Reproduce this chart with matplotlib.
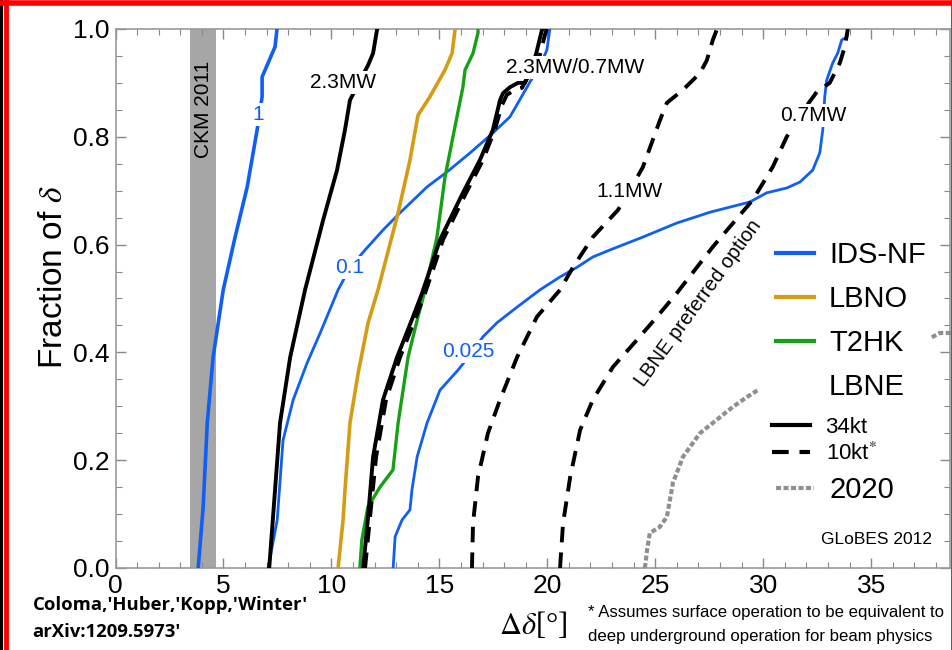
import matplotlib.pyplot as plt
from matplotlib.lines import Line2D
from matplotlib.ticker import MultipleLocator

plt.rcParams['font.family'] = ['Liberation Sans', 'DejaVu Sans']
plt.rcParams['mathtext.fontset'] = 'stix'

# CKM 2011 band
ckm_band = [3.46, 4.66]

# IDS-NF contours (blue)
nf1_x = [3.83, 4.06, 4.25, 4.52, 4.99, 5.54, 6.10, 6.56, 6.79, 6.79, 7.39, 7.48]
nf1_y = [0.0, 0.113, 0.269, 0.391, 0.516, 0.614, 0.707, 0.813, 0.874, 0.911, 0.967, 1.0]

nf01_x = [7.07, 7.49, 7.76, 8.23, 8.87, 9.48, 10.31, 10.86, 11.56, 12.39, 13.18, 14.43,
          15.36, 16.42, 17.48, 18.27, 19.06, 19.20, 19.66, 19.98, 20.12]
nf01_y = [0.0, 0.089, 0.237, 0.312, 0.380, 0.436, 0.516, 0.557, 0.590, 0.627, 0.659, 0.707,
          0.735, 0.770, 0.807, 0.837, 0.892, 0.902, 0.931, 0.961, 1.0]

nf0025_x = [12.86, 12.95, 13.27, 13.64, 13.73, 13.97, 14.43, 15.03, 15.86, 16.42, 17.02, 17.67,
            18.60, 19.66, 20.59, 21.38, 22.11, 22.90, 24.43, 26.00, 27.53, 29.38, 30.16, 31.09,
            31.70, 32.29, 32.62, 32.76, 32.85, 32.94, 33.22, 33.45, 33.64, 33.88, 33.92]
nf0025_y = [0.0, 0.058, 0.089, 0.108, 0.145, 0.206, 0.269, 0.330, 0.367, 0.395, 0.429, 0.455,
            0.484, 0.516, 0.540, 0.558, 0.577, 0.590, 0.614, 0.640, 0.660, 0.679, 0.696, 0.705,
            0.716, 0.738, 0.770, 0.813, 0.874, 0.905, 0.937, 0.955, 0.980, 0.985, 1.0]

# LBNO (gold)
lbno_x = [10.31, 10.54, 10.63, 10.86, 11.24, 11.70, 12.16, 13.09, 13.64, 13.97, 14.01, 14.56,
          15.26, 15.59, 15.73]
lbno_y = [0.0, 0.089, 0.145, 0.269, 0.362, 0.455, 0.516, 0.659, 0.757, 0.831, 0.840, 0.874,
          0.924, 0.955, 1.0]

# T2HK (green)
t2hk_x = [11.32, 11.41, 11.69, 12.25, 12.85, 13.09, 13.55, 14.01, 14.34, 14.89, 15.26, 15.72,
          16.09, 16.19, 16.56, 16.79, 16.79]
t2hk_y = [0.0, 0.052, 0.113, 0.150, 0.182, 0.269, 0.391, 0.466, 0.516, 0.614, 0.725, 0.818,
          0.892, 0.924, 0.955, 0.993, 1.0]

# LBNE 34kt (solid black)
lbne34_a_x = [7.12, 7.39, 7.62, 8.09, 8.78, 9.62, 10.26, 10.63, 10.86, 11.70, 11.93, 12.12]
lbne34_a_y = [0.0, 0.145, 0.269, 0.391, 0.516, 0.646, 0.738, 0.813, 0.868, 0.933, 0.955, 1.0]

lbne34_b_x = [11.47, 11.70, 11.93, 12.39, 13.04, 13.78, 14.20, 15.03, 16.09, 16.88, 17.48, 17.81,
              17.95, 18.27, 18.64, 18.96, 19.47, 19.75, 19.80]
lbne34_b_y = [0.0, 0.095, 0.206, 0.312, 0.391, 0.466, 0.510, 0.609, 0.696, 0.757, 0.813, 0.868,
              0.881, 0.892, 0.900, 0.900, 0.952, 0.998, 1.0]

# LBNE 10kt (dashed black)
lbne10_a_x = [11.56, 11.79, 12.07, 12.53, 13.18, 13.92, 14.34, 15.17, 16.24, 17.02, 17.57, 17.90,
              18.13, 18.50, 18.83, 19.66, 19.89, 19.98]
lbne10_a_y = [0.0, 0.095, 0.206, 0.312, 0.391, 0.466, 0.510, 0.609, 0.696, 0.757, 0.813, 0.859,
              0.878, 0.887, 0.891, 0.952, 0.989, 1.0]

lbne10_b_x = [16.51, 16.56, 16.79, 17.25, 17.81, 18.60, 19.52, 20.59, 21.19, 22.11, 23.27, 23.83,
              24.43, 25.22, 25.54, 26.28, 27.07, 27.39, 27.67, 27.86]
lbne10_b_y = [0.0, 0.083, 0.169, 0.250, 0.312, 0.391, 0.466, 0.516, 0.558, 0.614, 0.664, 0.701,
              0.744, 0.831, 0.863, 0.887, 0.918, 0.942, 0.980, 1.0]

lbne10_c_x = [20.59, 20.73, 21.06, 21.52, 22.11, 23.04, 24.15, 25.08, 26.00, 27.67, 29.52, 30.44,
              31.09, 31.69, 32.48, 33.08, 33.55, 33.78, 33.92]
lbne10_c_y = [0.0, 0.083, 0.169, 0.256, 0.312, 0.373, 0.423, 0.466, 0.510, 0.596, 0.683, 0.744,
              0.800, 0.840, 0.883, 0.900, 0.937, 0.967, 1.0]

# 2020 (grey dotted)
y2020_a_x = [24.52, 24.62, 24.75, 25.21, 25.54, 25.82, 26.28, 27.07, 27.85, 28.60, 29.24, 29.75]
y2020_a_y = [0.0, 0.033, 0.065, 0.076, 0.095, 0.158, 0.206, 0.250, 0.275, 0.299, 0.317, 0.330]
y2020_b_x = [37.81, 38.18, 38.7]
y2020_b_y = [0.428, 0.436, 0.436]

blue = '#0f5ef5'
gold = '#d49c12'
green = '#16a016'
grey = '#8f8f8f'
dash = (4, 2.6)
dot = (1.2, 0.6)

fig = plt.figure(figsize=(9.53, 6.5), dpi=100)
ax = fig.add_axes([0.1212, 0.1262, 0.8756, 0.8292])

ax.axvspan(ckm_band[0], ckm_band[1], color='#a6a6a6', lw=0, zorder=1)
ax.text(sum(ckm_band) / 2, 0.85, 'CKM 2011', rotation=90, ha='center', va='center', fontsize=15, zorder=2)

ax.plot(nf1_x, nf1_y, color=blue, lw=2.6, zorder=3)
ax.plot(nf01_x, nf01_y, color=blue, lw=2.0, zorder=3)
ax.plot(nf0025_x, nf0025_y, color=blue, lw=2.0, zorder=3)
ax.plot(lbno_x, lbno_y, color=gold, lw=2.6, zorder=3)
ax.plot(t2hk_x, t2hk_y, color=green, lw=2.4, zorder=3)
ax.plot(lbne34_a_x, lbne34_a_y, color='black', lw=2.8, zorder=3)
ax.plot(lbne34_b_x, lbne34_b_y, color='black', lw=2.8, zorder=3)
for xs, ys in [(lbne10_a_x, lbne10_a_y), (lbne10_b_x, lbne10_b_y), (lbne10_c_x, lbne10_c_y)]:
    ax.plot(xs, ys, color='black', lw=2.8, dashes=dash, zorder=3)
ax.plot(y2020_a_x, y2020_a_y, color=grey, lw=3.0, dashes=dot, zorder=3)
ax.plot(y2020_b_x, y2020_b_y, color=grey, lw=3.0, dashes=dot, zorder=3, clip_on=False)

box = dict(fc='white', ec='none', pad=1.5)
ax.text(6.62, 0.842, '1', color=blue, fontsize=15, ha='center', va='center', bbox=box, zorder=4)
ax.text(10.86, 0.557, '0.1', color=blue, fontsize=15, ha='center', va='center', bbox=box, zorder=4)
ax.text(16.35, 0.401, '0.025', color=blue, fontsize=15, ha='center', va='center', bbox=box, zorder=4)
ax.text(10.54, 0.900, '2.3MW', fontsize=15, ha='center', va='center', bbox=box, zorder=4)
ax.text(21.3, 0.928, '2.3MW/0.7MW', fontsize=15, ha='center', va='center', bbox=box, zorder=4)
ax.text(23.8, 0.698, '1.1MW', fontsize=15, ha='center', va='center', bbox=box, zorder=4)
ax.text(32.3, 0.840, '0.7MW', fontsize=15, ha='center', va='center', bbox=box, zorder=4)
ax.text(27.0, 0.492, 'LBNE preferred option', fontsize=14.5, rotation=54,
        ha='center', va='center', rotation_mode='anchor', zorder=4)
ax.text(35.26, 0.052, 'GLoBES 2012', fontsize=12.5, ha='center', va='center', zorder=4)

# legend in three groups
lx = 0.774
leg1 = ax.legend([Line2D([], [], color=blue, lw=3), Line2D([], [], color=gold, lw=3),
                  Line2D([], [], color=green, lw=3), Line2D([], [], color='none')],
                 ['IDS-NF', 'LBNO', 'T2HK', 'LBNE'],
                 loc='center left', bbox_to_anchor=(lx, 0.458), frameon=False, fontsize=21,
                 handlelength=1.3, handletextpad=0.52, labelspacing=0.54, borderpad=0)
ax.add_artist(leg1)
leg2 = ax.legend([Line2D([], [], color='black', lw=3), Line2D([], [], color='black', lw=3, dashes=dash)],
                 ['34kt', '10kt$^{*}$'],
                 loc='center left', bbox_to_anchor=(lx, 0.236), frameon=False, fontsize=16,
                 handlelength=1.71, handletextpad=0.68, labelspacing=0.23, borderpad=0)
ax.add_artist(leg2)
ax.legend([Line2D([], [], color=grey, lw=3, dashes=dot)], ['2020'],
          loc='center left', bbox_to_anchor=(lx, 0.145), frameon=False, fontsize=21,
          handlelength=1.3, handletextpad=0.52, borderpad=0)

ax.set_xlim(0, 38.65)
ax.set_ylim(0, 1)
ax.xaxis.set_major_locator(MultipleLocator(5))
ax.xaxis.set_minor_locator(MultipleLocator(1))
ax.yaxis.set_minor_locator(MultipleLocator(0.05))
ax.set_yticks([0, 0.2, 0.4, 0.6, 0.8, 1.0])
ax.set_yticklabels(['0.0', '0.2', '0.4', '0.6', '0.8', '1.0'])
ax.tick_params(which='both', direction='in', top=True, right=True, color='#888888', labelsize=19, pad=4)
ax.tick_params(which='major', length=7, width=1)
ax.tick_params(which='minor', length=4, width=0.8)
for s in ax.spines.values():
    s.set_color('#999999')
    s.set_linewidth(1.2)

ax.set_ylabel('Fraction of $\\delta$', fontsize=24)
ax.yaxis.set_label_coords(-0.056, 0.54)
fig.text(0.559, 0.038, '$\\Delta\\delta$[°]', fontsize=22, family='Liberation Serif', ha='center', va='center')
fig.text(0.617, 0.057, '* Assumes surface operation to be equivalent to', fontsize=12.1, ha='left', va='center')
fig.text(0.617, 0.021, 'deep underground operation for beam physics', fontsize=12.1, ha='left', va='center')
fig.text(0.034, 0.070, "Coloma,'Huber,'Kopp,'Winter'", fontsize=13.3, family='Open Sans',
         weight='bold', ha='left', va='center')
fig.text(0.034, 0.027, "arXiv:1209.5973'", fontsize=13.3, family='Open Sans',
         weight='bold', ha='left', va='center')

# red frame
fig.add_artist(Line2D([0.0015, 0.0015], [0, 1], color='black', lw=3, transform=fig.transFigure))
fig.add_artist(Line2D([0.006, 0.006], [0, 1], color='red', lw=3.5, transform=fig.transFigure))
fig.add_artist(Line2D([0, 1], [0.996, 0.996], color='red', lw=4, transform=fig.transFigure))
fig.add_artist(Line2D([0.999, 0.999], [0, 1], color='red', lw=2, transform=fig.transFigure))

fig.savefig('out.png', dpi=100)
